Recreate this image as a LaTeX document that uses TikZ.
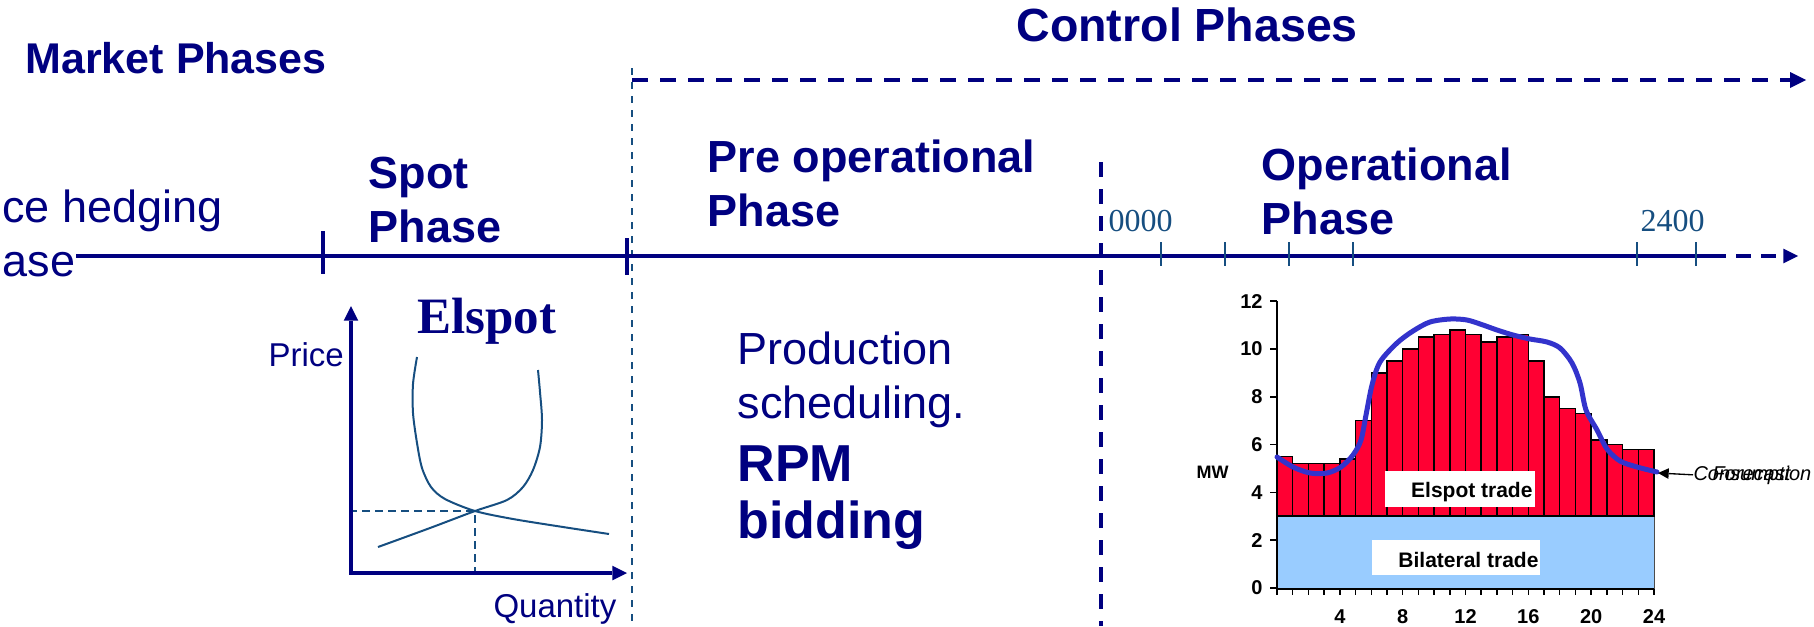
\documentclass[tikz,border=0pt]{standalone}
\usepackage{fontspec}
\setmainfont{Liberation Sans}
\newfontfamily\timesfont{Liberation Serif}
\usetikzlibrary{arrows.meta}

\definecolor{navyblue}{RGB}{0,0,128}
\definecolor{steelline}{RGB}{22,78,128}
\definecolor{spotred}{RGB}{255,0,51}
\definecolor{bilatblue}{RGB}{153,204,255}
\definecolor{loadblue}{RGB}{51,51,204}

\tikzset{every picture/.style={line width=0.75pt}}
\tikzset{
  titletxt/.style={anchor=base west,inner sep=0pt,text=navyblue,font=\fontsize{32.25}{38.7}\selectfont\bfseries},
  phasetxt/.style={anchor=base west,inner sep=0pt,text=navyblue,font=\fontsize{33.75}{40.5}\selectfont\bfseries},
  plaintxt/.style={anchor=base west,inner sep=0pt,text=navyblue,font=\fontsize{33.75}{40.5}\selectfont},
  bigbold/.style={anchor=base west,inner sep=0pt,text=navyblue,font=\fontsize{39}{46.8}\selectfont\bfseries},
  axistxt/.style={anchor=base west,inner sep=0pt,text=navyblue,font=\fontsize{24.75}{29.7}\selectfont},
  hourtxt/.style={anchor=base west,inner sep=0pt,text=steelline,font=\timesfont\fontsize{24}{28.8}\selectfont},
  charttxt/.style={inner sep=0pt,text=black,font=\fontsize{15}{18}\selectfont\bfseries},
  tradetxt/.style={anchor=base east,inner sep=0pt,text=black,font=\fontsize{15.75}{18.9}\selectfont\bfseries},
  notetxt/.style={anchor=base west,inner sep=0pt,text=black,font=\fontsize{15}{18}\selectfont\itshape},
  timeline/.style={draw=navyblue,line width=3pt},
  thinstep/.style={draw=steelline,line width=1.2pt},
  guide/.style={draw=steelline,line width=1.5pt,dash pattern=on 5.25pt off 5.25pt},
  bidcurve/.style={draw=steelline,line width=1.5pt},
  eqguide/.style={draw=steelline,line width=1.1pt,dash pattern=on 6pt off 3.75pt},
  barbox/.style={draw=black,line width=1.1pt,fill=spotred},
}

\begin{document}
\begin{tikzpicture}[x=0.75pt,y=0.75pt,yscale=-1,xscale=1]
\path[use as bounding box] (0,0) rectangle (1814,626);

% Text Node
\node[titletxt] (market) at (25,73) {Market Phases};
% Text Node
\node[titletxt,font=\fontsize{34.9}{41.9}\selectfont\bfseries] (control) at (1016,41) {Control Phases};

% Guides
\coordinate (preoptop) at (632,68);
\coordinate (preopbot) at (632,626);
\draw[guide] (preoptop) -- (preopbot);
\coordinate (optop) at (1101,162);
\coordinate (opbot) at (1101,626);
\draw[navyblue,line width=2.5pt,dash pattern=on 11.25pt off 9pt] (optop) -- (opbot);

% Connection
\coordinate (ctrlstart) at (632,80);
\coordinate (ctrlend) at (1806,80);
\draw[navyblue,line width=3pt,dash pattern=on 12pt off 9pt,-{Triangle[length=12pt,width=12pt,line width=0pt]}] (ctrlstart) -- (ctrlend);

% Connection
\coordinate (tlstart) at (76,256);
\coordinate (tlsolid) at (1711,256);
\coordinate (tlend) at (1798,256);
\draw[timeline] (tlstart) -- (tlsolid);
\draw[timeline,dash pattern=on 11.25pt off 7.5pt,-{Triangle[length=11pt,width=11pt,line width=0pt]}] (tlsolid) -- (tlend);
\draw[timeline] (323,231) -- (323,274);
\draw[timeline] (627,238) -- (627,275);
\foreach \t in {1161,1225,1289,1353,1637,1696}
  \draw[thinstep] (\t,242) -- (\t,266);

% Text Node
\node[plaintxt] (hedge1) at (2,222) {ce hedging};
\node[plaintxt] (hedge2) at (2,276) {ase};
% Text Node
\node[phasetxt] (spot1) at (368,188) {Spot};
\node[phasetxt] (spot2) at (368,242) {Phase};
% Text Node
\node[phasetxt] (preop1) at (707,172) {Pre operational};
\node[phasetxt] (preop2) at (707,226) {Phase};
% Text Node
\node[phasetxt] (oper1) at (1261,180) {Operational};
\node[phasetxt] (oper2) at (1261,234) {Phase};
% Text Node
\node[hourtxt] (hour0) at (1108,231) {0000};
\node[hourtxt] (hour24) at (1640,231) {2400};

% Text Node
\node[plaintxt] (prod1) at (737,364) {Production};
\node[plaintxt] (prod2) at (737,418) {scheduling.};
\node[bigbold] (rpm1) at (737,481) {RPM};
\node[bigbold] (rpm2) at (737,538) {bidding};

% Elspot curves
\node[anchor=base west,inner sep=0pt,text=navyblue,font=\timesfont\fontsize{38.25}{45.9}\selectfont\bfseries] (elspot) at (417,333) {Elspot};
\node[axistxt] (price) at (268,366) {Price};
\node[axistxt] (quantity) at (493,617) {Quantity};
\coordinate (orig) at (351,573);
\coordinate (ytop) at (351,306);
\coordinate (xend) at (627,573);
\coordinate (eq) at (475,511);
\coordinate (eqp) at (349,511);
\coordinate (eqq) at (475,573);
\draw[eqguide] (eqp) -- (eq) -- (eqq);
\draw[bidcurve] plot[smooth] coordinates {(417,357) (413,384) (413,413) (417,443) (422,468) (431,487) (445,499) (475,511) (513,519) (563,527) (609,534)};
\draw[bidcurve] plot[smooth] coordinates {(378,547) (430,528) (475,511) (507,500) (523,487) (533,470) (540,447) (542,420) (540,392) (538,370)};
\draw[navyblue,line width=3pt,{Triangle[length=11pt,width=11pt,line width=0pt]}-{Triangle[length=11pt,width=11pt,line width=0pt]}] (ytop) -- (orig) -- (xend);

% Shape: Rectangle
\draw[draw=black!70,line width=0.75pt,fill=bilatblue] (1277,516) rectangle (1654,588);
\foreach \v [count=\i from 0] in {5.5,5.2,5.2,5.2,5.4,7.0,9.0,9.5,10.0,10.5,10.6,10.8,10.6,10.3,10.5,10.6,9.5,8.0,7.5,7.3,6.2,6.0,5.8,5.8}
  \draw[barbox] ({1277+\i*15.708},516) rectangle ({1277+(\i+1)*15.708},{588-\v*23.9});
\draw[black,line width=1.1pt] (1277,301) -- (1277,589) -- (1654,589);
\foreach \k in {0,2,...,12}{
  \draw[black,line width=1.1pt] (1270,{588-\k*23.9}) -- (1277,{588-\k*23.9});
  \node[charttxt,anchor=east] (ylab\k) at (1263,{588-\k*23.9}) {\k};
}
\foreach \i in {0,...,24}
  \draw[black,line width=1.1pt] ({1277+\i*15.708},589) -- ({1277+\i*15.708},595);
\foreach \h in {4,8,...,24}
  \node[charttxt,anchor=base] (xlab\h) at ({1277+\h*15.708},623) {\h};
\node[charttxt,anchor=west,font=\fontsize{13.5}{16}\selectfont\bfseries] (mw) at (1196,472) {MW};

% Text Node
\fill[white] (1385,471) rectangle (1535,507);
\node[tradetxt] (spottrade) at (1533,497) {Elspot trade};
\fill[white] (1372,540) rectangle (1540,575);
\node[tradetxt] (bilattrade) at (1539,567) {Bilateral trade};

% load curve
\draw[loadblue,line width=3.75pt,line join=round,line cap=round] plot[smooth,tension=0.5] coordinates {(1277,457) (1293,467) (1310,473) (1327,473) (1341,467) (1353,455) (1361,440) (1366,415) (1372,385) (1380,362) (1397,343) (1413,331) (1430,322) (1450,319) (1467,320) (1483,325) (1497,330) (1513,335) (1530,339) (1547,342) (1560,348) (1572,363) (1580,383) (1586,410) (1597,430) (1607,449) (1620,461) (1637,467) (1657,472)};

% Connection
\coordinate (loadend) at (1658,473);
\node[notetxt] (cons) at (1693,480) {Consumption};
\node[notetxt] (fcast) at (1712,480) {Forecast};
\draw[black,line width=1pt,-{Triangle[length=8pt,width=8pt,line width=0pt]}] (cons.west) -- (loadend);

\end{tikzpicture}
\end{document}
